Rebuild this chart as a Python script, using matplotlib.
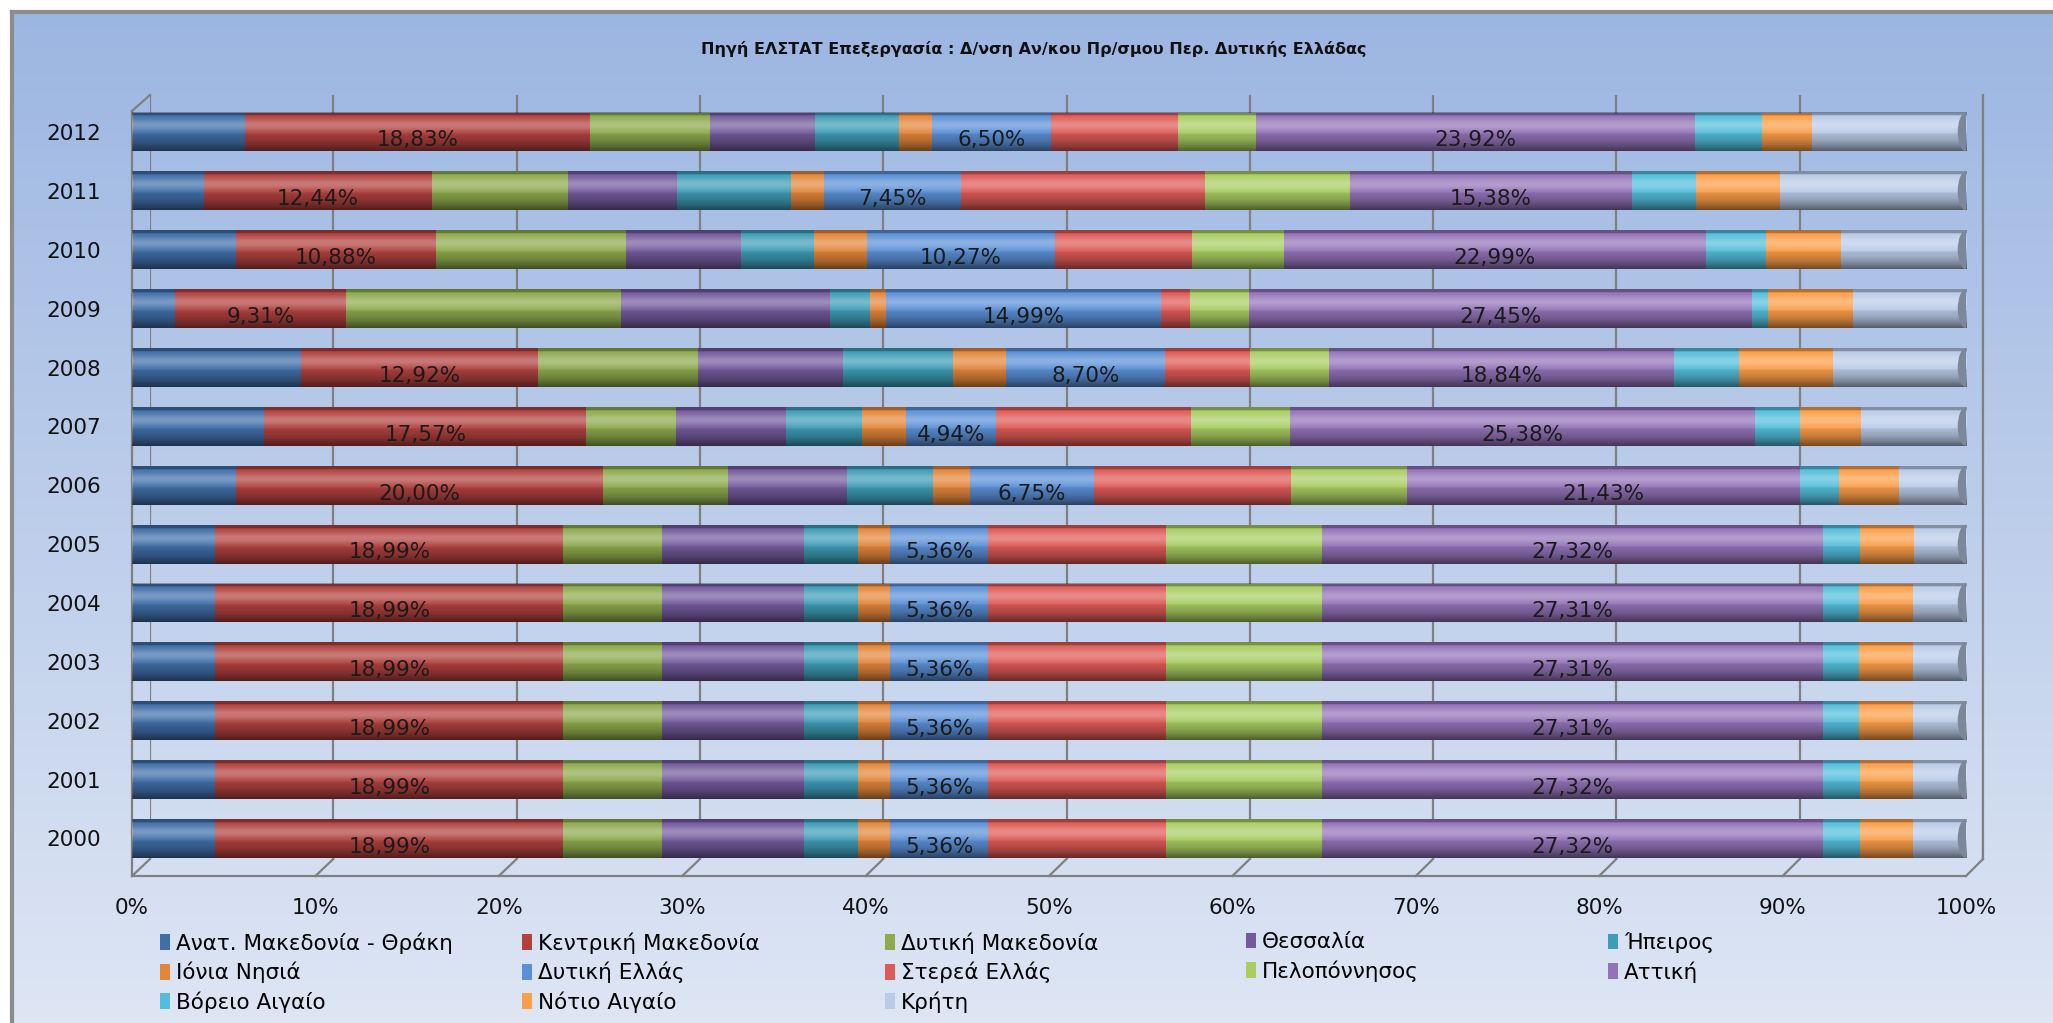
import numpy as np
import matplotlib
matplotlib.use("Agg")
import matplotlib.pyplot as plt
from matplotlib.lines import Line2D
from matplotlib.patches import Ellipse

plt.rcParams['font.family'] = ['DejaVu Sans']

# ---------------- data ----------------
years = ["2000", "2001", "2002", "2003", "2004", "2005", "2006",
         "2007", "2008", "2009", "2010", "2011", "2012"]

regions = ["Ανατ. Μακεδονία - Θράκη", "Κεντρική Μακεδονία", "Δυτική Μακεδονία",
           "Θεσσαλία", "Ήπειρος", "Ιόνια Νησιά", "Δυτική Ελλάς", "Στερεά Ελλάς",
           "Πελοπόννησος", "Αττική", "Βόρειο Αιγαίο", "Νότιο Αιγαίο", "Κρήτη"]

# percentage shares per region, order 2000 ... 2012
anat_mak_thraki = [4.53, 4.53, 4.53, 4.53, 4.53, 4.53, 5.67, 7.21, 9.22, 2.36, 5.67, 3.90, 6.16]
kentriki_mak    = [18.99, 18.99, 18.99, 18.99, 18.99, 18.99, 20.00, 17.57, 12.92, 9.31, 10.88, 12.44, 18.83]
dytiki_mak      = [5.37, 5.37, 5.37, 5.37, 5.37, 5.37, 6.82, 4.87, 8.71, 14.97, 10.38, 7.41, 6.50]
thessalia       = [7.76, 7.76, 7.76, 7.76, 7.76, 7.76, 6.51, 5.99, 7.94, 11.42, 6.27, 5.99, 5.75]
ipeiros         = [2.93, 2.93, 2.93, 2.93, 2.93, 2.93, 4.70, 4.18, 5.98, 2.16, 4.00, 6.20, 4.56]
ionia_nisia     = [1.74, 1.74, 1.74, 1.74, 1.74, 1.74, 2.01, 2.37, 2.89, 0.90, 2.85, 1.81, 1.81]
dytiki_ellas    = [5.36, 5.36, 5.36, 5.36, 5.36, 5.36, 6.75, 4.94, 8.70, 14.99, 10.27, 7.45, 6.50]
sterea_ellas    = [9.70, 9.70, 9.70, 9.70, 9.70, 9.70, 10.71, 10.60, 4.62, 1.58, 7.47, 13.32, 6.90]
peloponnisos    = [8.50, 8.50, 8.50, 8.50, 8.50, 8.50, 6.34, 5.39, 4.29, 3.19, 5.02, 7.88, 4.29]
attiki          = [27.32, 27.32, 27.31, 27.31, 27.31, 27.32, 21.43, 25.38, 18.84, 27.45, 22.99, 15.38, 23.92]
voreio_aigaio   = [1.98, 1.98, 1.98, 1.98, 1.98, 1.98, 2.12, 2.46, 3.55, 0.85, 3.30, 3.48, 3.66]
notio_aigaio    = [2.93, 2.93, 2.93, 2.93, 2.93, 2.93, 3.30, 3.30, 5.13, 4.65, 4.11, 4.58, 2.75]
kriti           = [2.87, 2.87, 2.88, 2.88, 2.88, 2.86, 3.64, 5.74, 7.23, 6.17, 6.79, 10.16, 8.37]

series = [anat_mak_thraki, kentriki_mak, dytiki_mak, thessalia, ipeiros, ionia_nisia,
          dytiki_ellas, sterea_ellas, peloponnisos, attiki, voreio_aigaio, notio_aigaio, kriti]

labelled = [1, 6, 9]   # series that carry data labels

colors = ["#3F6EA8", "#B0413E", "#8DAA4D", "#735A9C", "#3E9CB6", "#E3863A",
          "#5B90D6", "#DE5A56", "#A9CD62", "#9373B8", "#53BEDB", "#FB9E48", "#BACBE8"]

title = "Πηγή ΕΛΣΤΑΤ Επεξεργασία : Δ/νση Αν/κου Πρ/σμου Περ. Δυτικής Ελλάδας"

# ---------------- figure ----------------
W, H = 2053, 1023
fig = plt.figure(figsize=(W / 100, H / 100), dpi=100)
fig.patch.set_facecolor("white")

def fx(px):
    return px / W

def fy(py):
    return 1 - py / H

# background panel with vertical gradient
bg = fig.add_axes([0, 0, 1, 1])
bg.set_xlim(0, W)
bg.set_ylim(H, 0)
bg.axis("off")
top_c = np.array([0x9C, 0xB6, 0xE2]) / 255
bot_c = np.array([0xDE, 0xE6, 0xF4]) / 255
t = np.linspace(0, 1, 256)[:, None]
grad = (top_c[None, :] * (1 - t) + bot_c[None, :] * t)[:, None, :]
bg.imshow(grad, extent=[12, W, H, 12], aspect="auto", zorder=0)
bg.add_line(Line2D([12, W], [12, 12], color="#8C8C8C", lw=3, zorder=1))
bg.add_line(Line2D([12, 12], [12, H], color="#8C8C8C", lw=3, zorder=1))

fig.text(fx(1034), fy(49), title, ha="center", va="center",
         fontsize=11.5, fontweight="bold", color="#111111")

# back wall (gridlines)
bx0, bx1, by0, by1 = 150, 1983, 95, 859
axb = fig.add_axes([fx(bx0), fy(by1), fx(bx1 - bx0), (by1 - by0) / H])
axb.set_xlim(0, 100)
axb.set_ylim(0, 1)
axb.patch.set_alpha(0)
axb.set_xticks(np.arange(0, 101, 10))
axb.set_yticks([])
axb.tick_params(length=0, labelbottom=False)
axb.grid(axis="x", color="#808080", lw=1.6)
for s in ["top", "bottom", "left"]:
    axb.spines[s].set_visible(False)
axb.spines["right"].set_color("#808080")
axb.spines["right"].set_linewidth(1.6)

# front axes with bars
fx0, fx1, fy0, fy1 = 132, 1966, 111, 876
ax = fig.add_axes([fx(fx0), fy(fy1), fx(fx1 - fx0), (fy1 - fy0) / H])
ax.patch.set_alpha(0)
ypos = np.arange(len(years))
bar_h = 0.66

vals = np.array(series, dtype=float)
vals = vals / vals.sum(axis=0) * 100.0
left = np.zeros(len(years))
for i, (name, col) in enumerate(zip(regions, colors)):
    ax.barh(ypos, vals[i], left=left, height=bar_h, color=col, edgecolor="none",
            label=name, zorder=2)
    if i in labelled:
        for j in range(len(years)):
            raw = series[i][j]
            ax.text(left[j] + vals[i][j] / 2, ypos[j] - 0.14,
                    f"{raw:.2f}%".replace(".", ","), ha="center", va="center",
                    fontsize=15.5, color="#1A1A1A", zorder=5)
    left += vals[i]

# cylindrical shading overlay
tt = np.linspace(0, 1, 120)
white_a = 0.30 * np.exp(-((tt - 0.33) / 0.16) ** 2)
black_a = 0.10 + 0.45 * np.clip((tt - 0.55) / 0.45, 0, 1) ** 1.6
black_a[tt < 0.08] = 0.30
black_a = np.where((tt > 0.08) & (tt < 0.55), 0.0, black_a)
white_img = np.zeros((len(tt), 1, 4)); white_img[..., :3] = 1; white_img[:, 0, 3] = white_a
black_img = np.zeros((len(tt), 1, 4)); black_img[:, 0, 3] = black_a
for y in ypos:
    ext = [0, 100, y - bar_h / 2, y + bar_h / 2]
    ax.imshow(white_img[::-1], extent=ext, aspect="auto", origin="lower", zorder=3)
    ax.imshow(black_img[::-1], extent=ext, aspect="auto", origin="lower", zorder=3)
    ax.add_patch(Ellipse((100, y), 0.9, bar_h, facecolor="#7C889A",
                         edgecolor="none", zorder=4))

ax.set_xlim(0, 100)
ax.set_ylim(-0.637, 12.357)
ax.set_xticks(np.arange(0, 101, 10))
ax.set_xticklabels([f"{v}%" for v in range(0, 101, 10)], fontsize=15.5, color="#111111")
ax.set_yticks(ypos)
ax.set_yticklabels(years, fontsize=15.5, color="#111111")
ax.tick_params(axis="x", length=0, pad=16)
ax.tick_params(axis="y", length=0, pad=22)
for s in ["top", "right"]:
    ax.spines[s].set_visible(False)
for s in ["left", "bottom"]:
    ax.spines[s].set_color("#808080")
    ax.spines[s].set_linewidth(1.6)

# 3D floor / wall connectors
for k in range(11):
    xb = bx0 + (bx1 - bx0) * k / 10
    xf = fx0 + (fx1 - fx0) * k / 10
    bg.add_line(Line2D([xb, xf], [by1, fy1], color="#808080", lw=1.6, zorder=2))
bg.add_line(Line2D([fx0, bx0], [fy0, by0], color="#808080", lw=1.6, zorder=2))

# legend: 5 columns, 3 rows
col_x = [160, 522, 885, 1246, 1608]
hs, ls = ax.get_legend_handles_labels()
for c in range(5):
    idx = [c + 5 * r for r in range(3) if c + 5 * r < len(hs)]
    fig.legend([hs[i] for i in idx], [ls[i] for i in idx],
               loc="upper left", bbox_to_anchor=(fx(col_x[c]), fy(932)),
               frameon=False, fontsize=15.5, handlelength=0.45, handleheight=0.75,
               handletextpad=0.3, labelspacing=0.38, borderpad=0, borderaxespad=0)

fig.savefig("out.png", dpi=100)
